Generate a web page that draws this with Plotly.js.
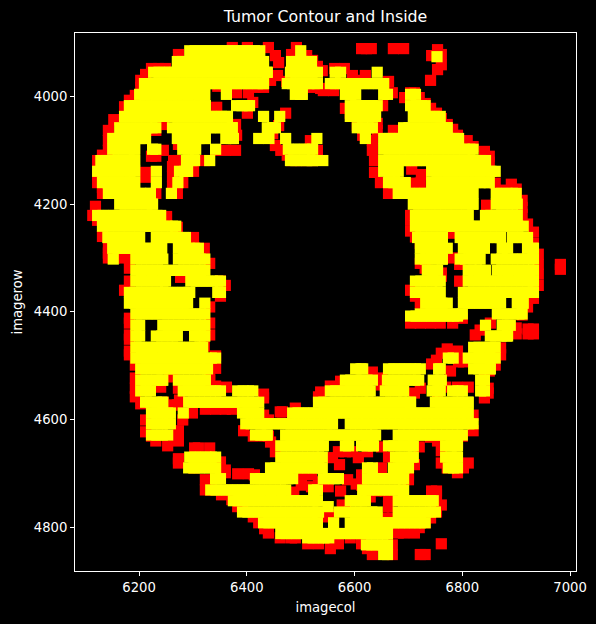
<!DOCTYPE html>
<html><head><meta charset="utf-8">
<script src="https://cdn.plot.ly/plotly-3.0.1.min.js"></script>
<style>html,body{margin:0;padding:0;background:#000}</style></head>
<body><div id="chart" style="width:596px;height:624px"></div>
<script>
// Inside spots: [imagerow, firstCol, lastCol, firstCol, lastCol, ...] (neighbouring spots 10 units apart)
const insideRows = [
[3915,6294,6424,6500,6500],[3926,6753,6753],[3935,6271,6431,6483,6520],
[3955,6227,6438,6481,6531,6564,6574,6642,6642],[3976,6210,6431,6475,6531,6555,6654],
[3996,6201,6322,6362,6362,6490,6503,6583,6602,6654,6661,6704,6713],
[4017,6182,6323,6381,6405,6592,6642,6704,6731],
[4037,6173,6364,6431,6431,6461,6461,6592,6639,6709,6759],
[4058,6164,6231,6262,6373,6438,6453,6605,6633,6691,6772],
[4078,6151,6212,6271,6323,6361,6375,6422,6422,6441,6441,6472,6472,6530,6530,6620,6620,6654,6793],
[4098,6151,6192,6225,6231,6281,6305,6342,6342,6477,6522,6654,6820],
[4119,6129,6192,6288,6303,6331,6331,6481,6522,6541,6541,6654,6843],
[4139,6123,6192,6232,6232,6275,6290,6654,6681,6743,6861],
[4160,6132,6192,6232,6232,6272,6272,6663,6694,6743,6850],
[4180,6143,6221,6260,6260,6681,6820,6863,6900],
[4200,6164,6225,6709,6820,6863,6902],
[4221,6123,6240,6713,6811,6843,6902],
[4241,6132,6268,6713,6913],
[4262,6142,6201,6232,6286,6717,6763,6796,6871,6893,6921],
[4282,6151,6242,6273,6310,6722,6772,6802,6841,6874,6884,6921,6932],
[4302,6152,6152,6194,6244,6273,6322,6722,6763,6796,6833,6863,6932],
[4323,6194,6322,6735,6754,6811,6843,6865,6932],
[4343,6194,6249,6296,6351,6713,6759,6811,6932],
[4364,6182,6294,6346,6351,6713,6759,6802,6932],
[4384,6182,6290,6322,6322,6732,6772,6802,6871,6902,6913],
[4404,6194,6322,6722,6800,6865,6911],
[4408,6704,6791],
[4425,6194,6201,6244,6322,6843,6843,6874,6889],
[4445,6194,6201,6232,6271,6303,6322,6852,6884],
[4466,6194,6318,6821,6861],
[4486,6194,6342,6774,6783,6811,6861],
[4506,6203,6327,6602,6615,6663,6722,6756,6759,6821,6852],
[4527,6203,6244,6273,6323,6583,6633,6661,6719,6746,6761,6834,6841],
[4547,6203,6221,6282,6351,6383,6411,6555,6629,6657,6691,6744,6759,6782,6800,6834,6841],
[4568,6212,6244,6292,6422,6533,6704,6750,6811],
[4588,6223,6258,6282,6282,6392,6422,6485,6811],
[4608,6223,6258,6398,6559,6592,6820],
[4629,6223,6253,6416,6438,6472,6639,6681,6800],
[4649,6463,6542,6583,6589,6613,6635,6663,6709,6769,6791],
[4670,6294,6342,6463,6540,6676,6709,6769,6791],
[4690,6292,6342,6444,6540,6624,6633,6672,6700,6774,6791],
[4710,6342,6351,6416,6485,6542,6570,6624,6691],
[4731,6333,6472,6524,6531,6615,6691],
[4751,6375,6531,6592,6620,6681,6746],
[4762,6551,6551],
[4772,6392,6533,6572,6572,6592,6642,6681,6750],
[4792,6431,6531,6561,6561,6592,6731],
[4812,6463,6661],
[4820,6513,6552],
[4833,6622,6661],
[4851,6654,6661]
];
// Contour spots: [imagecol, imagerow]
const contourSpots = [
[6373,3909],[6401,3909],[6273,3922],[6223,3948],[6236,3948],[6249,3948],[6212,3959],[6203,3970],[6203,3983],[6193,3998],[6182,4007],[6173,4019],[6153,4043],[6143,4063],[6143,4082],[6143,4100],[6132,4109],[6123,4119],[6123,4147],[6123,4160],[6132,4169],[6132,4180],[6119,4204],
[6245,4052],[6231,4063],[6245,4100],[6223,4111],[6231,4111],[6273,4089],[6264,4119],[6273,4119],[6262,4130],[6262,4148],[6262,4167],[6212,4141],[6212,4150],[6231,4180],[6271,4180],[6281,4160],[6301,4139],[6321,4119],[6342,4100],[6360,4100],[6379,4100],[6381,4072],[6379,4052],[6401,4031],[6344,4020],[6381,3993],[6403,3993],[6346,3981],
[6440,3909],[6453,3924],[6459,3937],[6492,3909],[6511,3924],[6522,3933],[6531,3944],[6540,3952],[6563,3948],[6581,3948],[6596,3961],[6611,3970],[6620,3961],[6663,3972],[6670,3993],[6652,4017],[6642,4050],[6642,4063],[6613,3911],[6622,3911],[6631,3911],[6672,3911],[6691,3911],[6672,4063],[6583,4022],[6592,4031],[6605,4054],[6615,4072],[6633,4082],[6633,4100],[6637,4119],[6637,4141],[6648,4160],[6663,4180],[6416,3983],[6431,3983],[6411,4011],[6472,4031],[6459,4054],[6448,4069],[6453,4091],[6463,4100],[6475,4109],[6483,4119],[6501,4119],[6522,4119],[6518,4082],[6531,4100],[6542,3989],[6561,3989],[6537,3985],[6518,3983],[6474,3972],[6457,3961],[6444,3970],[6483,3922],
[6741,3970],[6754,3913],[6743,3924],[6761,3922],[6761,3941],[6754,3950],[6704,3993],[6711,3993],[6693,4002],[6720,4002],[6731,4013],[6741,4022],[6752,4031],[6761,4041],[6772,4052],[6782,4061],[6791,4072],[6809,4082],[6820,4093],[6841,4102],[6850,4111],[6850,4122],[6861,4161],[6874,4174],[6891,4163],[6900,4172],[6911,4193],[6911,4206],[6845,4202],[6706,4135],[6724,4145],[6713,4161],[6722,4161],
[6911,4219],[6921,4237],[6932,4252],[6932,4273],[6941,4293],[6941,4312],[6941,4330],[6941,4351],[6932,4375],[6921,4391],[6911,4406],[6900,4430],[6922,4432],[6932,4432],[6932,4441],[6922,4441],[6900,4441],[6982,4312],[6982,4321],[6704,4221],[6704,4230],[6704,4250],[6713,4261],[6722,4273],[6722,4310],[6731,4319],[6761,4328],[6761,4334],[6783,4254],[6782,4300],[6795,4312],[6795,4343],[6704,4360],[6713,4371],[6722,4384],[6833,4382],[6704,4421],[6722,4421],[6741,4421],[6759,4421],[6782,4421],[6800,4412],[6852,4421],[6824,4443],[6833,4434],[6871,4467],[6871,4480],[6861,4499],[6850,4510],[6841,4517],[6772,4469],[6791,4473],[6761,4477],[6752,4490],[6743,4497],[6793,4493],[6802,4493],[6778,4510],
[6769,4540],[6791,4540],[6811,4540],[6848,4542],[6848,4551],[6841,4560],[6820,4592],[6820,4621],[6800,4631],[6791,4644],[6811,4681],[6802,4690],[6791,4699],[6772,4690],[6761,4681],[6761,4658],[6754,4640],[6748,4631],[6754,4551],[6743,4733],[6752,4733],[6743,4740],[6752,4740],
[6761,4831],[6722,4851],[6731,4851],[6670,4833],[6670,4851],[6633,4851],[6624,4840],[6613,4831],[6592,4820],[6570,4831],[6555,4840],[6513,4831],[6533,4831],[6483,4820],[6490,4820],[6681,4811],[6691,4811],[6711,4811],[6720,4801],[6731,4792],[6741,4783],[6752,4772],[6761,4759],[6700,4705],[6700,4712],[6711,4684],[6720,4651],[6741,4633],[6570,4660],[6583,4660],[6596,4660],[6607,4671],[6559,4671],[6572,4684],[6650,4651],[6624,4660],[6663,4670],[6650,4690],[6587,4712],[6613,4703],[6613,4722],[6603,4720],[6501,4709],[6501,4722],[6520,4703],[6533,4716],[6487,4735],[6520,4725],[6551,4725],[6574,4733],[6640,4733],[6657,4733],[6629,4744],[6663,4744],[6663,4762],[6654,4783],[6670,4783],[6542,4781],[6561,4777],[6583,4768],[6577,4759],[6466,4586],[6490,4579],[6533,4558],[6537,4549],[6555,4538],[6574,4529],[6633,4512],[6650,4523],[6650,4536],[6711,4551],[6722,4542],
[6193,4523],[6193,4542],[6193,4558],[6203,4571],[6212,4601],[6212,4623],[6223,4631],[6231,4640],[6253,4649],[6273,4621],[6273,4640],[6281,4601],[6262,4521],[6240,4540],[6245,4568],[6262,4573],[6271,4573],[6273,4542],[6275,4564],[6299,4588],[6323,4581],[6342,4581],[6360,4581],[6373,4581],[6394,4621],[6412,4631],[6433,4631],[6440,4631],[6444,4642],[6453,4660],[6431,4592],[6440,4601],[6462,4586],[6431,4553],[6431,4560],[6362,4540],[6342,4538],[6331,4527],[6303,4653],[6310,4653],[6331,4653],[6273,4673],[6273,4681],[6301,4690],[6351,4679],[6360,4694],[6360,4699],[6383,4701],[6403,4701],[6414,4703],[6323,4712],[6323,4731],[6333,4731],[6353,4740],[6372,4749],[6383,4762],[6392,4770],[6412,4781],[6422,4792],[6433,4803],[6440,4811],[6462,4820],
[6114,4221],[6123,4230],[6132,4260],[6143,4280],[6143,4291],[6143,4300],[6154,4300],[6166,4300],[6182,4300],[6182,4319],[6182,4343],[6173,4360],[6182,4412],[6182,4421],[6182,4443],[6182,4451],[6182,4473],[6182,4480],[6193,4499],[6251,4223],[6271,4243],[6301,4262],[6321,4282],[6331,4310],[6351,4343],[6360,4351],[6351,4371],[6331,4391],[6331,4421],[6331,4443],[6321,4464],[6342,4482],[6342,4505],[6331,4517],[6257,4517],[6277,4336]
];
const xTickValues = [6200,6400,6600,6800,7000];
const yTickValues = [4000,4200,4400,4600,4800];

const insideCol = [], insideRow = [];
insideRows.forEach(r => {
  for (let i = 1; i < r.length; i += 2) {
    for (let c = r[i]; c < r[i+1]; c += 10) { insideCol.push(c); insideRow.push(r[0]); }
    insideCol.push(r[i+1]); insideRow.push(r[0]);
  }
});
const tick = {color:'#fff', size:13.2, family:'DejaVu Sans'};
const axis = {showgrid:false, zeroline:false, showline:true, mirror:true, linecolor:'#fff', linewidth:1,
  ticks:'outside', ticklen:4, tickwidth:1, tickcolor:'#fff', tickfont:tick, tickmode:'array'};
Plotly.newPlot('chart', [
  {type:'scatter', mode:'markers', x:contourSpots.map(p=>p[0]), y:contourSpots.map(p=>p[1]), name:'contour',
   marker:{symbol:'square', size:11.2, color:'#ff0000', line:{width:0}}, hoverinfo:'skip'},
  {type:'scatter', mode:'markers', x:insideCol, y:insideRow, name:'inside',
   marker:{symbol:'square', size:11.2, color:'#ffff00', line:{width:0}}, hoverinfo:'skip'}
], {
  width:596, height:624, autosize:false, showlegend:false,
  paper_bgcolor:'#000', plot_bgcolor:'#000',
  margin:{l:74.5, r:20, t:32.5, b:53},
  title:{text:'Tumor Contour and Inside', font:{color:'#fff', size:15.8, family:'DejaVu Sans'},
         x:0.5, xref:'paper', y:0.973, yref:'container', yanchor:'middle'},
  xaxis:Object.assign({}, axis, {range:[6081,7011], tickvals:xTickValues, ticktext:xTickValues.map(String),
     title:{text:'imagecol', font:tick, standoff:8}}),
  yaxis:Object.assign({}, axis, {range:[4881.6,3882], tickvals:yTickValues, ticktext:yTickValues.map(String),
     title:{text:'imagerow', font:tick, standoff:8}})
}, {displayModeBar:false, staticPlot:true});
</script></body></html>
